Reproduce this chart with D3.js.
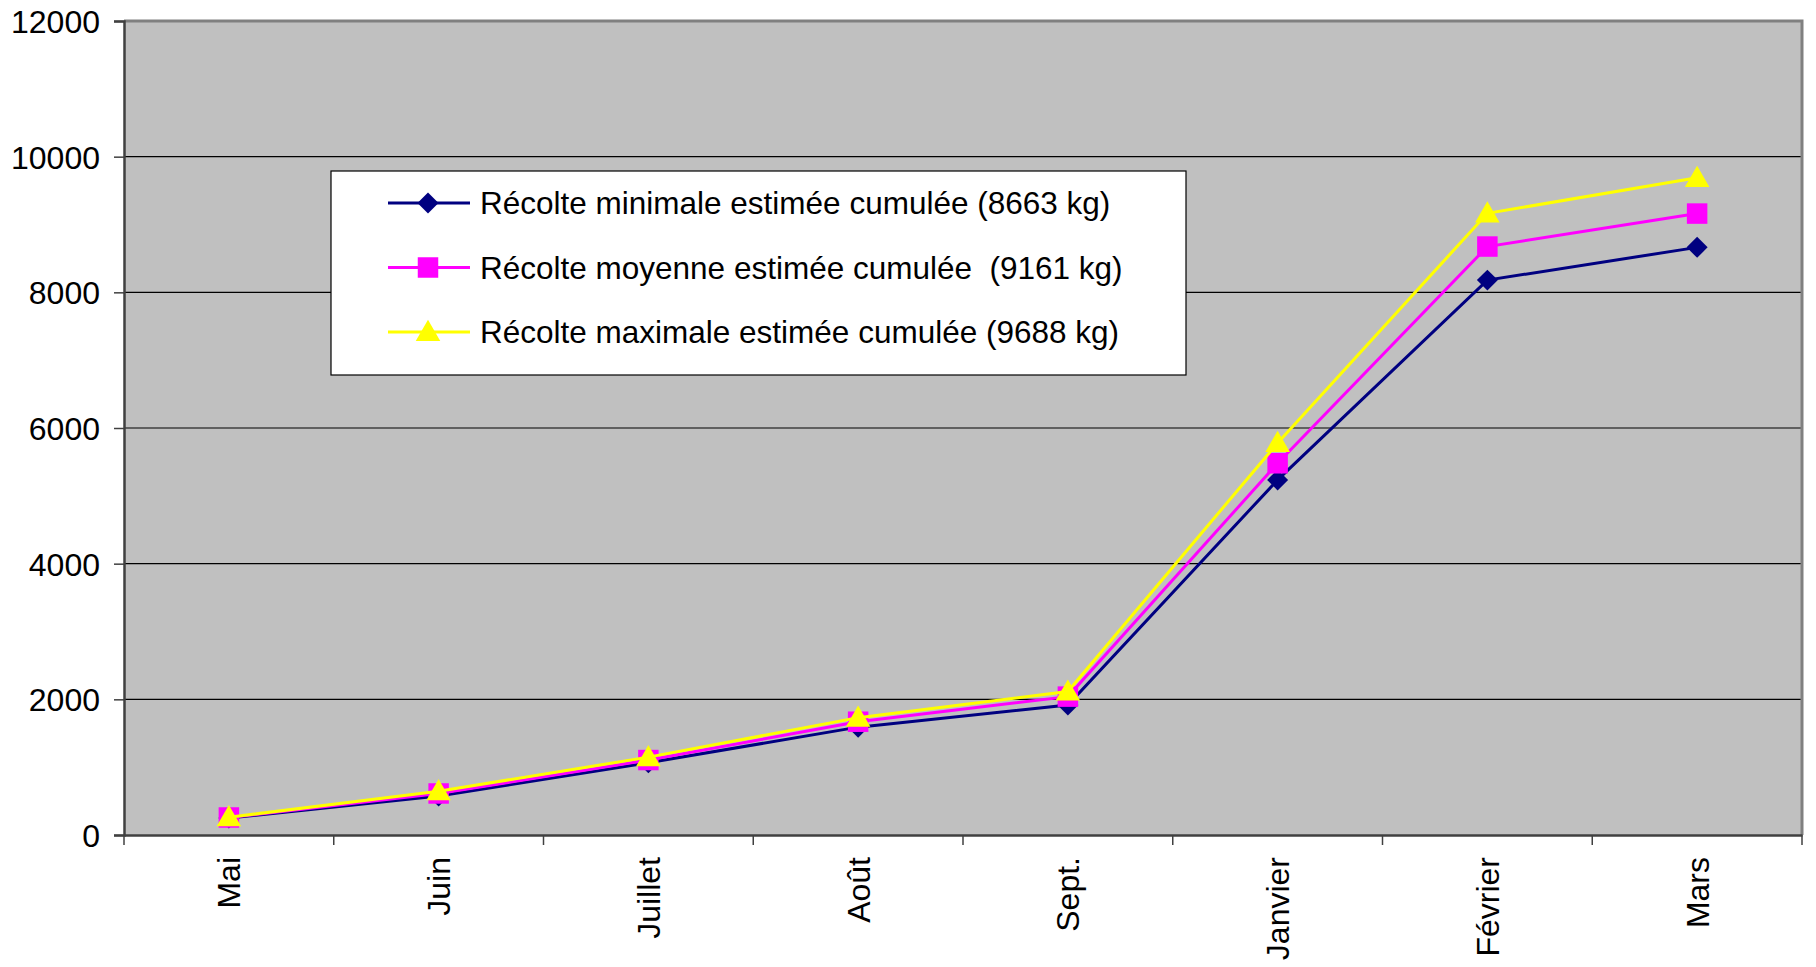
<!DOCTYPE html>
<html>
<head>
<meta charset="utf-8">
<script src="https://cdn.jsdelivr.net/npm/d3@7"></script>
<style>
  body { margin: 0; background: #ffffff; }
  text { font-family: "Liberation Sans", Arial, sans-serif; fill: #000; }
</style>
</head>
<body>
<script>
//Data
const months = ["Mai", "Juin", "Juillet", "Août", "Sept.", "Janvier", "Février", "Mars"];
const minValues = [250, 575, 1065, 1590, 1915, 5235, 8180, 8663];
const moyValues = [258, 612, 1105, 1670, 2040, 5480, 8675, 9161];
const maxValues = [262, 645, 1148, 1730, 2115, 5780, 9165, 9688];
const seriesNames = [
    "Récolte minimale estimée cumulée (8663 kg)",
    "Récolte moyenne estimée cumulée  (9161 kg)",
    "Récolte maximale estimée cumulée (9688 kg)"
];
const yTicks = [0, 2000, 4000, 6000, 8000, 10000, 12000];

//Variables
const width = 1816;
const height = 967;
const plotLeft = 124, plotRight = 1802, plotTop = 21, plotBottom = 835;

// square diamond (rotated square), like the spreadsheet marker
const symbolBigDiamond = {
    draw(context, size) {
        const r = Math.sqrt(size) / 2 * Math.SQRT2;
        context.moveTo(0, -r);
        context.lineTo(r, 0);
        context.lineTo(0, r);
        context.lineTo(-r, 0);
        context.closePath();
    }
};

const series = [
    {name: seriesNames[0], values: minValues, color: "#000080", symbol: symbolBigDiamond, size: 220, dy: 0},
    {name: seriesNames[1], values: moyValues, color: "#FF00FF", symbol: d3.symbolSquare, size: 420, dy: 0},
    {name: seriesNames[2], values: maxValues, color: "#FFFF00", symbol: d3.symbolTriangle, size: 260, dy: 2}
];

const svg = d3.select("body")
    .append("svg")
    .attr("width", width)
    .attr("height", height);

//Scales
const xScale = d3.scaleBand()
    .domain(months)
    .range([plotLeft, plotRight]);

const yScale = d3.scaleLinear()
    .domain([0, 12000])
    .range([plotBottom, plotTop]);

//Plot area
svg.append("rect")
    .attr("x", plotLeft)
    .attr("y", plotTop)
    .attr("width", plotRight - plotLeft)
    .attr("height", plotBottom - plotTop)
    .attr("fill", "#C0C0C0");

//Gridlines
svg.append("g")
    .selectAll("line")
    .data(yTicks.slice(1, -1))
    .enter()
    .append("line")
    .attr("x1", plotLeft)
    .attr("x2", plotRight)
    .attr("y1", d => yScale(d))
    .attr("y2", d => yScale(d))
    .attr("stroke", "#000")
    .attr("stroke-width", 1.2);

//Border top/right
svg.append("path")
    .attr("d", `M${plotLeft},${plotTop}H${plotRight}V${plotBottom}`)
    .attr("fill", "none")
    .attr("stroke", "#808080")
    .attr("stroke-width", 3);

//y axis
const yAxis = d3.axisLeft(yScale)
    .tickValues(yTicks)
    .tickSize(10)
    .tickPadding(14)
    .tickFormat(d3.format("d"));

const gy = svg.append("g")
    .attr("transform", `translate(${plotLeft}, 0)`)
    .call(yAxis);
gy.select(".domain").attr("stroke", "#404040").attr("stroke-width", 2.5);
gy.selectAll(".tick line").attr("stroke", "#404040").attr("stroke-width", 1.5);
gy.selectAll("text")
    .style("font-size", "32px")
    .style("font-family", "'Liberation Sans', Arial, sans-serif")
    .attr("dy", "0.36em");

//x axis
const xAxis = d3.axisBottom(xScale).tickSize(0).tickFormat("");
const gx = svg.append("g")
    .attr("transform", `translate(0, ${plotBottom})`)
    .call(xAxis);
gx.select(".domain").attr("stroke", "#404040").attr("stroke-width", 2.5);

// boundary ticks between categories
gx.selectAll(".bound")
    .data(months.concat(["end"]))
    .enter()
    .append("line")
    .attr("x1", (d, i) => i < months.length ? xScale(d) : plotRight)
    .attr("x2", (d, i) => i < months.length ? xScale(d) : plotRight)
    .attr("y1", 0)
    .attr("y2", 10)
    .attr("stroke", "#404040")
    .attr("stroke-width", 1.5);

gx.selectAll(".lbl")
    .data(months)
    .enter()
    .append("text")
    .attr("transform", d => `translate(${xScale(d) + xScale.bandwidth() / 2}, 22) rotate(-90)`)
    .attr("text-anchor", "end")
    .attr("dy", "0.36em")
    .style("font-size", "32px")
    .text(d => d);

//Lines and markers
const line = d3.line()
    .x((d, i) => xScale(months[i]) + xScale.bandwidth() / 2)
    .y(d => yScale(d));

series.forEach(s => {
    svg.append("path")
        .datum(s.values)
        .attr("d", line)
        .attr("fill", "none")
        .attr("stroke", s.color)
        .attr("stroke-width", 3);

    svg.append("g")
        .selectAll("path")
        .data(s.values)
        .enter()
        .append("path")
        .attr("d", d3.symbol().type(s.symbol).size(s.size))
        .attr("transform", (d, i) => `translate(${xScale(months[i]) + xScale.bandwidth() / 2}, ${yScale(d) + s.dy})`)
        .attr("fill", s.color);
});

//Legend
const legend = svg.append("g");
legend.append("rect")
    .attr("x", 331)
    .attr("y", 171)
    .attr("width", 855)
    .attr("height", 204)
    .attr("fill", "#fff")
    .attr("stroke", "#000")
    .attr("stroke-width", 1.2);

const rows = legend.selectAll(".row")
    .data(series)
    .enter()
    .append("g")
    .attr("transform", (d, i) => `translate(0, ${203 + i * 64.5})`);

rows.append("line")
    .attr("x1", 388)
    .attr("x2", 470)
    .attr("stroke", d => d.color)
    .attr("stroke-width", 3);

rows.append("path")
    .attr("d", d => d3.symbol().type(d.symbol).size(d.size)())
    .attr("transform", d => `translate(428, ${d.dy})`)
    .attr("fill", d => d.color);

rows.append("text")
    .attr("x", 480)
    .attr("dy", "0.36em")
    .style("font-size", "31.5px")
    .style("white-space", "pre")
    .text(d => d.name);
</script>
</body>
</html>
